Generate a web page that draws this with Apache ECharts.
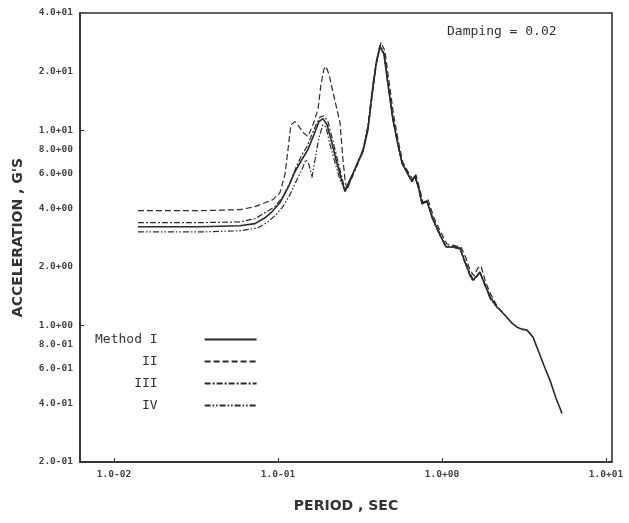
<!DOCTYPE html>
<html>
<head>
<meta charset="utf-8">
<script src="https://cdn.jsdelivr.net/npm/echarts@6/dist/echarts.min.js"></script>
<style>
  html, body { margin: 0; padding: 0; background: #fff; }
  #spectrum-chart { width: 629px; height: 523px; }
</style>
</head>
<body>
<div id="spectrum-chart"></div>
<script>
// response spectra, period (sec) vs acceleration (g)
const seriesNames = ['Method I', 'II', 'III', 'IV'];

const periodI = [0.0140, 0.0334, 0.0586, 0.0724, 0.0833, 0.0919, 0.1028, 0.1151, 0.1270, 0.1400,
  0.1524, 0.1659, 0.1778, 0.1880, 0.1990, 0.2106, 0.2259, 0.2423, 0.2564, 0.2750,
  0.3034, 0.3299, 0.3539, 0.3743, 0.3962, 0.4190, 0.4431, 0.4688, 0.5024, 0.5395,
  0.5702, 0.6120, 0.6561, 0.6845, 0.7244, 0.7553, 0.8105, 0.8817, 0.9728, 1.058,
  1.199, 1.288, 1.381, 1.482, 1.545, 1.634, 1.705, 1.828, 1.963, 2.164,
  2.421, 2.672, 2.866, 3.076, 3.299, 3.589, 3.962, 4.249, 4.559, 4.957, 5.395];
const accelI = [3.21, 3.21, 3.25, 3.33, 3.57, 3.83, 4.26, 5.09, 6.15, 7.10,
  7.99, 9.54, 11.1, 11.5, 10.7, 8.99, 7.10, 5.73, 4.86, 5.60,
  6.69, 7.80, 10.1, 15.3, 21.8, 27.0, 24.6, 17.2, 11.4, 8.47,
  6.85, 6.08, 5.47, 5.87, 4.97, 4.21, 4.32, 3.49, 2.92, 2.53,
  2.53, 2.50, 2.12, 1.82, 1.71, 1.80, 1.88, 1.62, 1.40, 1.245,
  1.13, 1.03, 0.982, 0.959, 0.948, 0.873, 0.705, 0.605, 0.524, 0.424, 0.355];

const periodII = [0.0140, 0.0334, 0.0586, 0.0724, 0.0833, 0.0932, 0.1028, 0.1104, 0.1151, 0.1200,
  0.1270, 0.1343, 0.1420, 0.1524, 0.1634, 0.1754, 0.1829, 0.1907, 0.1962, 0.2048,
  0.2165, 0.2290, 0.2389, 0.2491, 0.2564, 0.2636, 0.2826, 0.3076, 0.3345, 0.3587,
  0.3794, 0.4017, 0.4248, 0.4491, 0.4750, 0.5096, 0.5470, 0.5783, 0.6206, 0.6655,
  0.6941, 0.7345, 0.7661, 0.8219, 0.8941, 0.9860, 1.072, 1.216, 1.306, 1.400,
  1.482, 1.567, 1.659, 1.729, 1.855, 1.991, 2.164, 2.421];
const accelII = [3.88, 3.88, 3.93, 4.07, 4.26, 4.42, 4.80, 5.94, 7.99, 10.7,
  11.1, 10.5, 9.77, 9.32, 10.7, 12.8, 17.2, 20.6, 21.3, 19.4,
  15.7, 12.8, 11.0, 7.10, 5.60, 4.97, 5.73, 6.93, 8.18, 11.1,
  16.3, 23.2, 28.3, 25.5, 17.9, 11.7, 8.47, 6.85, 6.15, 5.60,
  5.94, 4.97, 4.26, 4.42, 3.57, 2.99, 2.62, 2.56, 2.53, 2.22,
  1.93, 1.80, 1.98, 2.02, 1.65, 1.44, 1.26, 1.13];

const periodIII = [0.0140, 0.0334, 0.0586, 0.0724, 0.0833, 0.0959, 0.1072, 0.1183, 0.1287, 0.1400,
  0.1503, 0.1611, 0.1706, 0.1805, 0.1907, 0.2019, 0.2135, 0.2290, 0.2456, 0.2564,
  0.2750, 0.3034, 0.3299, 0.3539, 0.3743, 0.3962, 0.4190, 0.4431, 0.4688, 0.5024,
  0.5395, 0.5702, 0.6120, 0.6561, 0.6845, 0.7244, 0.7553, 0.8105, 0.8817, 0.9728,
  1.058, 1.199, 1.288, 1.381, 1.482, 1.545, 1.705, 1.963, 2.164];
const accelIII = [3.37, 3.37, 3.40, 3.53, 3.79, 4.07, 4.58, 5.40, 6.45, 7.53,
  8.27, 9.54, 10.7, 11.7, 11.9, 11.1, 9.21, 7.27, 5.73, 4.97,
  5.47, 6.61, 7.99, 10.6, 15.9, 22.4, 27.4, 24.9, 17.4, 11.3,
  8.37, 6.85, 6.15, 5.53, 5.87, 4.97, 4.26, 4.37, 3.53, 2.95,
  2.56, 2.53, 2.47, 2.15, 1.86, 1.73, 1.88, 1.42, 1.245];

const periodIV = [0.0140, 0.0334, 0.0586, 0.0755, 0.0869, 0.0973, 0.1072, 0.1183, 0.1287, 0.1400,
  0.1482, 0.1546, 0.1611, 0.1683, 0.1778, 0.1880, 0.1962, 0.2076, 0.2228, 0.2389,
  0.2564, 0.2750, 0.3034, 0.3299, 0.3539, 0.3743, 0.3962, 0.4190, 0.4431, 0.4688,
  0.5024, 0.5395, 0.5702, 0.6120, 0.6561, 0.6845, 0.7244, 0.7553, 0.8105, 0.8817,
  0.9728, 1.058, 1.199, 1.288, 1.381, 1.482, 1.545, 1.705, 1.963, 2.164];
const accelIV = [3.02, 3.02, 3.06, 3.17, 3.40, 3.70, 4.07, 4.69, 5.47, 6.30,
  7.10, 6.69, 5.73, 7.10, 9.21, 10.7, 10.4, 8.47, 6.85, 5.60,
  4.91, 5.53, 6.77, 7.89, 10.4, 15.1, 21.6, 26.7, 24.3, 17.0,
  11.3, 8.47, 6.77, 6.08, 5.47, 5.80, 4.91, 4.21, 4.32, 3.45,
  2.89, 2.53, 2.50, 2.47, 2.10, 1.80, 1.69, 1.86, 1.38, 1.23];

const xTickValues = [0.01, 0.1, 1, 10];
const xTickLabels = ['1.0-02', '1.0-01', '1.0+00', '1.0+01'];
const yTickValues = [0.2, 0.4, 0.6, 0.8, 1, 2, 4, 6, 8, 10, 20, 40];
const yTickLabels = ['2.0-01', '4.0-01', '6.0-01', '8.0-01', '1.0+00', '2.0+00',
  '4.0+00', '6.0+00', '8.0+00', '1.0+01', '2.0+01', '4.0+01'];
const yMajorTicks = [1, 10];

function pairs(xs, ys) {
  return xs.map((x, i) => [x, ys[i]]);
}

function tickLabel(values, labels) {
  return function (v) {
    for (let i = 0; i < values.length; i++) {
      if (Math.abs(Math.log10(v) - Math.log10(values[i])) < 1e-6) return labels[i];
    }
    return '';
  };
}

const ink = '#2b2b2b';
const labelFont = {
  fontFamily: 'DejaVu Sans Mono',
  fontSize: 9.5,
  fontWeight: 'bold',
  color: '#444',
};
const nameFont = {
  fontFamily: 'DejaVu Sans',
  fontSize: 14,
  fontWeight: 'bold',
  color: '#333',
};

const chart = echarts.init(document.getElementById('spectrum-chart'));

const lineSeries = [
  { data: pairs(periodI, accelI), type: 'solid', width: 1.6, z: 4 },
  { data: pairs(periodII, accelII), type: [6, 3], width: 1.2, z: 3 },
  { data: pairs(periodIII, accelIII), type: [6, 2, 2, 2], width: 1.2, z: 2 },
  { data: pairs(periodIV, accelIV), type: [6, 2, 1.5, 2, 1.5, 2], width: 1.2, z: 2 },
];

const option = {
  animation: false,
  backgroundColor: '#fff',
  title: {
    text: 'Damping = 0.02',
    left: 447,
    top: 25,
    padding: 0,
    textStyle: {
      fontFamily: 'DejaVu Sans Mono',
      fontSize: 13,
      fontWeight: 'normal',
      color: '#333',
    },
  },
  legend: {
    data: seriesNames,
    orient: 'vertical',
    align: 'right', // text on the left, line sample on the right
    left: 95,
    top: 333,
    padding: 0,
    itemGap: 9,
    itemWidth: 52,
    itemHeight: 14,
    selectedMode: false,
    itemStyle: { opacity: 0 }, // hide the marker dot, keep the line sample
    textStyle: {
      fontFamily: 'DejaVu Sans Mono',
      fontSize: 13,
      color: '#333',
      padding: [0, 42, 0, 0],
    },
  },
  grid: {
    left: 80,
    right: 17,
    top: 13,
    bottom: 61,
    show: true,
    borderColor: ink,
    borderWidth: 1.5,
  },
  xAxis: {
    type: 'log',
    min: 0.00621,
    max: 10.88,
    name: 'PERIOD , SEC',
    nameLocation: 'middle',
    nameGap: 37,
    nameTextStyle: nameFont,
    axisLine: { show: true, lineStyle: { color: ink, width: 1.5 } },
    axisTick: {
      show: true,
      inside: true,
      length: 4,
      customValues: xTickValues,
      lineStyle: { color: ink },
    },
    axisLabel: {
      customValues: xTickValues,
      formatter: tickLabel(xTickValues, xTickLabels),
      margin: 8,
      ...labelFont,
    },
    splitLine: { show: false },
    minorTick: { show: false },
  },
  yAxis: {
    type: 'log',
    min: 0.2,
    max: 40,
    name: "ACCELERATION , G'S",
    nameLocation: 'middle',
    nameRotate: 90,
    nameGap: 55,
    nameTextStyle: nameFont,
    axisLine: { show: true, lineStyle: { color: ink, width: 1.5 } },
    axisTick: {
      show: true,
      inside: true,
      length: 4,
      customValues: yMajorTicks,
      lineStyle: { color: ink },
    },
    axisLabel: {
      customValues: yTickValues,
      formatter: tickLabel(yTickValues, yTickLabels),
      margin: 7,
      ...labelFont,
    },
    splitLine: { show: false },
    minorTick: { show: false },
  },
  series: lineSeries.map((s, i) => ({
    name: seriesNames[i],
    type: 'line',
    data: s.data,
    symbol: 'none',
    z: s.z,
    color: ink,
    lineStyle: { color: ink, width: s.width, type: s.type },
  })),
};

chart.setOption(option);
</script>
</body>
</html>
